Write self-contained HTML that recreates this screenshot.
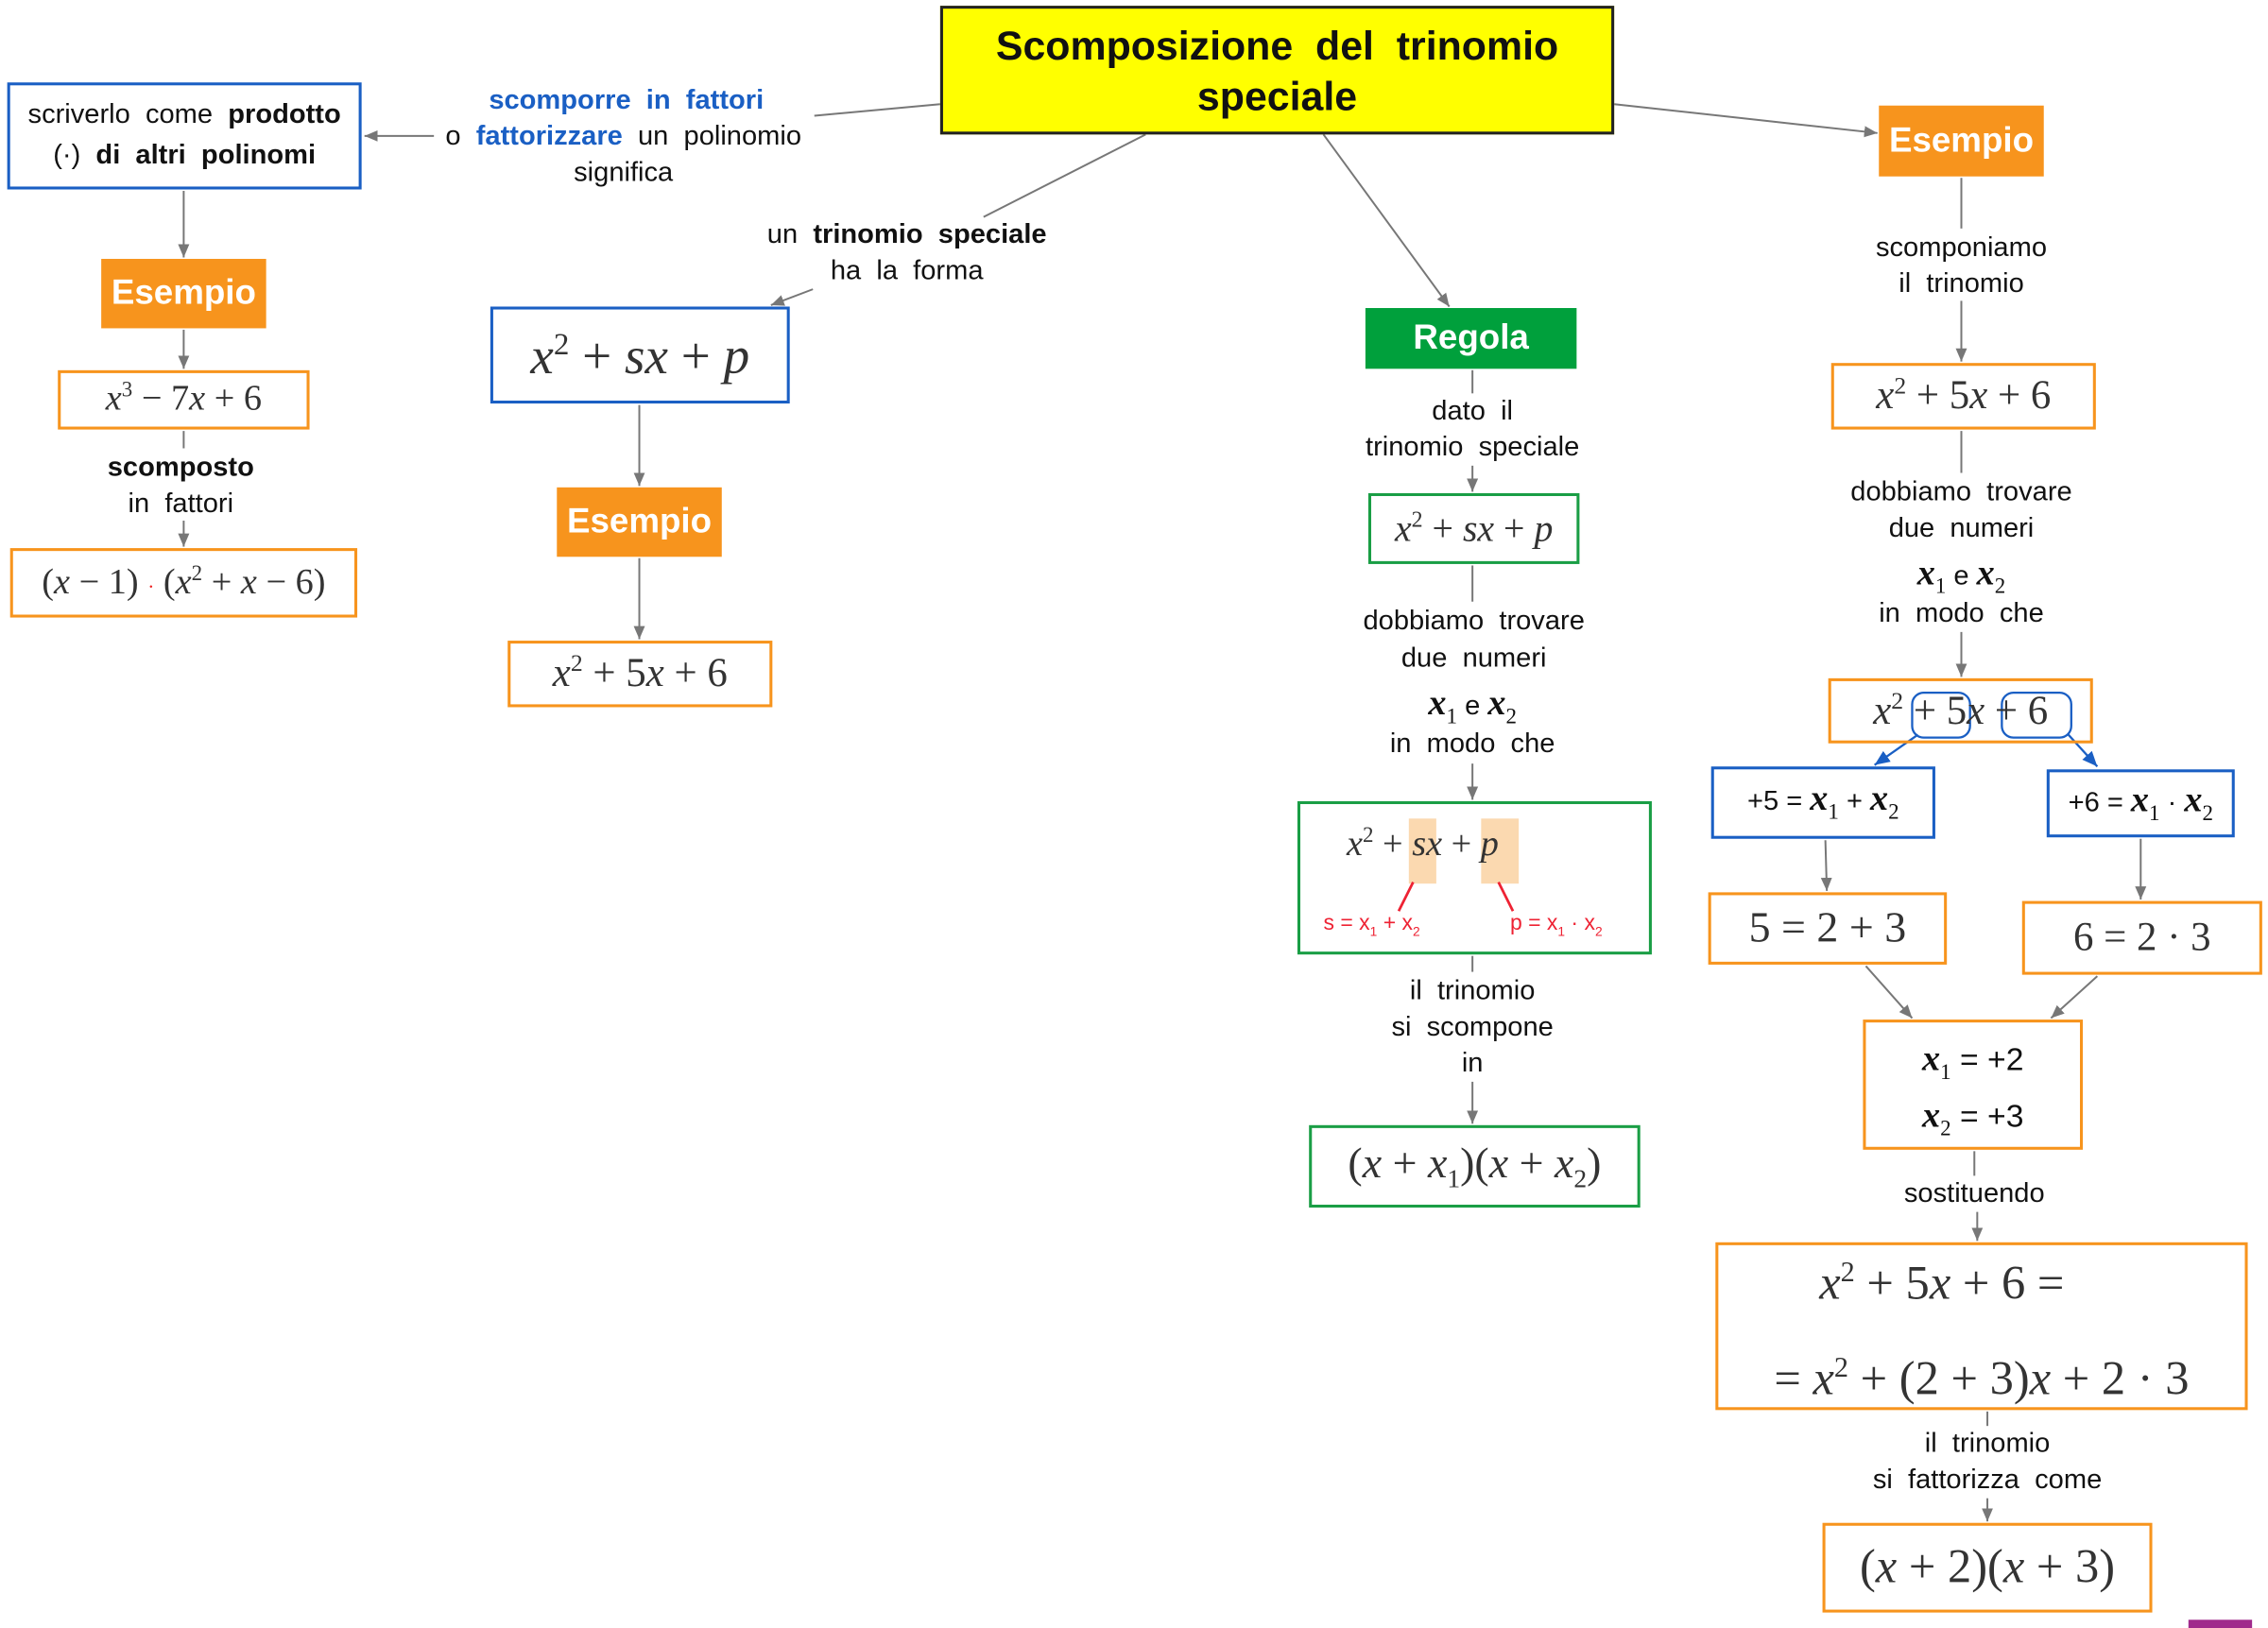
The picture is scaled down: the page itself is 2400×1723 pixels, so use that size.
<!DOCTYPE html>
<html><head><meta charset="utf-8">
<style>
html,body{margin:0;padding:0;background:#fff;width:2400px;height:1723px;overflow:hidden}
#c{position:absolute;left:0;top:0;width:1568px;height:1126px;transform:scale(1.5306);transform-origin:0 0;font-family:"Liberation Sans",sans-serif;color:#111}
.b{position:absolute;box-sizing:border-box;display:flex;align-items:center;justify-content:center;text-align:center}
.o{border:2px solid #f7941d}
.bl{border:2px solid #1a5fc4}
.g{border:2px solid #1a9e45}
.es{background:#f7941d;color:#fff;font-weight:bold;font-size:24px}
.t{position:absolute;font-size:19px;text-align:center;line-height:25px;white-space:nowrap;transform:translateX(-50%)}
.m{font-family:"Liberation Serif",serif;color:#333;font-size:28px}
.m i{font-style:italic}
.v{font-family:"Liberation Serif",serif;font-style:italic;font-weight:bold;font-size:25px}
.v sub{font-style:normal;font-weight:normal}
sub{font-size:60%}
sup{font-size:60%}
</style></head><body><div id="c">
<svg width="1568" height="1126" style="position:absolute;left:0;top:0">
<defs><marker id="a" markerWidth="8" markerHeight="8" refX="7" refY="4" orient="auto"><path d="M0,1 L7,4 L0,7 z" fill="#777"/></marker>
<marker id="ab" markerWidth="8" markerHeight="8" refX="7" refY="4" orient="auto"><path d="M0,1 L7,4 L0,7 z" fill="#1a5fc4"/></marker></defs>
<g stroke="#777" stroke-width="1.3" fill="none">
<line x1="650" y1="72" x2="563" y2="80"/>
<line x1="300" y1="94" x2="252" y2="94" marker-end="url(#a)"/>
<line x1="127" y1="132" x2="127" y2="178" marker-end="url(#a)"/>
<line x1="127" y1="228" x2="127" y2="255" marker-end="url(#a)"/>
<line x1="127" y1="298" x2="127" y2="310"/>
<line x1="127" y1="360" x2="127" y2="378" marker-end="url(#a)"/>
<line x1="792" y1="93" x2="680" y2="150"/>
<line x1="562" y1="200" x2="533" y2="211" marker-end="url(#a)"/>
<line x1="442" y1="280" x2="442" y2="336" marker-end="url(#a)"/>
<line x1="442" y1="386" x2="442" y2="442" marker-end="url(#a)"/>
<line x1="915" y1="93" x2="1002" y2="212" marker-end="url(#a)"/>
<line x1="1018" y1="256" x2="1018" y2="272"/>
<line x1="1018" y1="322" x2="1018" y2="340" marker-end="url(#a)"/>
<line x1="1018" y1="391" x2="1018" y2="416"/>
<line x1="1018" y1="528" x2="1018" y2="553" marker-end="url(#a)"/>
<line x1="1018" y1="661" x2="1018" y2="672"/>
<line x1="1018" y1="748" x2="1018" y2="777" marker-end="url(#a)"/>
<line x1="1116" y1="72" x2="1298" y2="92" marker-end="url(#a)"/>
<line x1="1356" y1="123" x2="1356" y2="158"/>
<line x1="1356" y1="208" x2="1356" y2="250" marker-end="url(#a)"/>
<line x1="1356" y1="298" x2="1356" y2="327"/>
<line x1="1356" y1="437" x2="1356" y2="468" marker-end="url(#a)"/>
<line x1="1262" y1="581" x2="1263" y2="616" marker-end="url(#a)"/>
<line x1="1480" y1="580" x2="1480" y2="622" marker-end="url(#a)"/>
<line x1="1290" y1="668" x2="1322" y2="704" marker-end="url(#a)"/>
<line x1="1450" y1="675" x2="1418" y2="704" marker-end="url(#a)"/>
<line x1="1365" y1="796" x2="1365" y2="813"/>
<line x1="1367" y1="838" x2="1367" y2="858" marker-end="url(#a)"/>
<line x1="1374" y1="976" x2="1374" y2="986"/>
<line x1="1374" y1="1036" x2="1374" y2="1052" marker-end="url(#a)"/>
</g>
<g stroke="#1a5fc4" stroke-width="1.5" fill="none">
<rect x="1322" y="479" width="40" height="31" rx="8"/>
<rect x="1384" y="479" width="48" height="31" rx="8"/>
<line x1="1326" y1="508" x2="1296" y2="529" marker-end="url(#ab)"/>
<line x1="1430" y1="508" x2="1450" y2="530" marker-end="url(#ab)"/>
</g>
<rect x="974" y="566" width="19" height="45" fill="#fbd9b0"/>
<rect x="1024" y="566" width="26" height="45" fill="#fbd9b0"/>
<g stroke="#ee2233" stroke-width="1.8"><line x1="977" y1="610" x2="967" y2="630"/><line x1="1036" y1="610" x2="1046" y2="630"/></g>
<rect x="1513" y="1120" width="44" height="6" fill="#a02a8c"/>
</svg>

<div class="b" style="left:650px;top:4px;width:466px;height:89px;background:#ffff00;border:2px solid #222;font-weight:bold;font-size:28px;line-height:35px"><span>Scomposizione&nbsp; del&nbsp; trinomio<br>speciale</span></div>

<div class="b bl" style="left:5px;top:57px;width:245px;height:74px;font-size:19px;line-height:28px"><span>scriverlo&nbsp; come&nbsp; <b>prodotto</b><br>(·)&nbsp; <b>di&nbsp; altri&nbsp; polinomi</b></span></div>
<div class="t" style="left:433px;top:57px;color:#1a5fc4;font-weight:bold">scomporre&nbsp; in&nbsp; fattori</div>
<div class="t" style="left:431px;top:82px">o&nbsp; <b style="color:#1a5fc4">fattorizzare</b>&nbsp; un&nbsp; polinomio</div>
<div class="t" style="left:431px;top:107px">significa</div>

<div class="b es" style="left:70px;top:179px;width:114px;height:48px">Esempio</div>
<div class="b o m" style="left:40px;top:256px;width:174px;height:41px;font-size:25px"><span><i>x</i><sup>3</sup> − 7<i>x</i> + 6</span></div>
<div class="t" style="left:125px;top:311px;font-weight:bold">scomposto</div>
<div class="t" style="left:125px;top:336px">in&nbsp; fattori</div>
<div class="b o m" style="left:7px;top:379px;width:240px;height:48px;font-size:25px"><span>(<i>x</i> − 1) <span style="color:#e22;font-size:14px">·</span> (<i>x</i><sup>2</sup> + <i>x</i> − 6)</span></div>

<div class="t" style="left:627px;top:150px">un&nbsp; <b>trinomio&nbsp; speciale</b></div>
<div class="t" style="left:627px;top:175px">ha&nbsp; la&nbsp; forma</div>
<div class="b bl m" style="left:339px;top:212px;width:207px;height:67px;font-size:36px"><span><i>x</i><sup>2</sup> + <i>sx</i> + <i>p</i></span></div>
<div class="b es" style="left:385px;top:337px;width:114px;height:48px">Esempio</div>
<div class="b o m" style="left:351px;top:443px;width:183px;height:46px"><span><i>x</i><sup>2</sup> + 5<i>x</i> + 6</span></div>

<div class="b" style="left:944px;top:213px;width:146px;height:42px;background:#00a03c;color:#fff;font-weight:bold;font-size:24px">Regola</div>
<div class="t" style="left:1018px;top:272px">dato&nbsp; il</div>
<div class="t" style="left:1018px;top:297px">trinomio&nbsp; speciale</div>
<div class="b g m" style="left:946px;top:341px;width:146px;height:49px;font-size:26px"><span><i>x</i><sup>2</sup> + <i>sx</i> + <i>p</i></span></div>
<div class="t" style="left:1019px;top:417px">dobbiamo&nbsp; trovare</div>
<div class="t" style="left:1019px;top:443px">due&nbsp; numeri</div>
<div class="t" style="left:1018px;top:474px"><span class="v">x<sub>1</sub></span> e <span class="v">x<sub>2</sub></span></div>
<div class="t" style="left:1018px;top:502px">in&nbsp; modo&nbsp; che</div>
<div class="b g" style="left:897px;top:554px;width:245px;height:106px"></div>
<div class="m" style="position:absolute;left:931px;top:570px;font-size:25px"><i>x</i><sup>2</sup> + <i>sx</i> + <i>p</i></div>
<div style="position:absolute;left:915px;top:630px;color:#ee2233;font-size:15px">s = x<sub>1</sub> + x<sub>2</sub></div>
<div style="position:absolute;left:1044px;top:630px;color:#ee2233;font-size:15px">p = x<sub>1</sub> · x<sub>2</sub></div>
<div class="t" style="left:1018px;top:673px">il&nbsp; trinomio</div>
<div class="t" style="left:1018px;top:698px">si&nbsp; scompone</div>
<div class="t" style="left:1018px;top:723px">in</div>
<div class="b g m" style="left:905px;top:778px;width:229px;height:57px;font-size:30px"><span>(<i>x</i> + <i>x</i><sub>1</sub>)(<i>x</i> + <i>x</i><sub>2</sub>)</span></div>

<div class="b es" style="left:1299px;top:73px;width:114px;height:49px">Esempio</div>
<div class="t" style="left:1356px;top:159px">scomponiamo</div>
<div class="t" style="left:1356px;top:184px">il&nbsp; trinomio</div>
<div class="b o m" style="left:1266px;top:251px;width:183px;height:46px"><span><i>x</i><sup>2</sup> + 5<i>x</i> + 6</span></div>
<div class="t" style="left:1356px;top:328px">dobbiamo&nbsp; trovare</div>
<div class="t" style="left:1356px;top:353px">due&nbsp; numeri</div>
<div class="t" style="left:1356px;top:384px"><span class="v">x<sub>1</sub></span> e <span class="v">x<sub>2</sub></span></div>
<div class="t" style="left:1356px;top:412px">in&nbsp; modo&nbsp; che</div>
<div class="b o m" style="left:1264px;top:469px;width:183px;height:45px"><span><i>x</i><sup>2</sup> + 5<i>x</i> + 6</span></div>
<div class="b bl" style="left:1183px;top:530px;width:155px;height:50px;font-size:19px"><span>+5 = <span class="v">x<sub>1</sub></span> + <span class="v">x<sub>2</sub></span></span></div>
<div class="b bl" style="left:1415px;top:532px;width:130px;height:47px;font-size:19px"><span>+6 = <span class="v">x<sub>1</sub></span> · <span class="v">x<sub>2</sub></span></span></div>
<div class="b o m" style="left:1181px;top:617px;width:165px;height:50px;font-size:30px">5 = 2 + 3</div>
<div class="b o m" style="left:1398px;top:623px;width:166px;height:51px;font-size:28px">6 = 2 · 3</div>
<div class="b o" style="left:1288px;top:705px;width:152px;height:90px"></div>
<div class="t" style="left:1364px;top:718px;font-size:22px;line-height:30px"><span class="v">x<sub>1</sub></span> = +2</div>
<div class="t" style="left:1364px;top:757px;font-size:22px;line-height:30px"><span class="v">x<sub>2</sub></span> = +3</div>
<div class="t" style="left:1365px;top:813px">sostituendo</div>
<div class="b o m" style="left:1186px;top:859px;width:368px;height:116px;font-size:33px;line-height:58px"><span><span style="margin-right:55px"><i>x</i><sup>2</sup> + 5<i>x</i> + 6 =</span><br>= <i>x</i><sup>2</sup> + (2 + 3)<i>x</i> + 2 · 3</span></div>
<div class="t" style="left:1374px;top:986px">il&nbsp; trinomio</div>
<div class="t" style="left:1374px;top:1011px">si&nbsp; fattorizza&nbsp; come</div>
<div class="b o m" style="left:1260px;top:1053px;width:228px;height:62px;font-size:33px"><span>(<i>x</i> + 2)(<i>x</i> + 3)</span></div>
</div></body></html>
